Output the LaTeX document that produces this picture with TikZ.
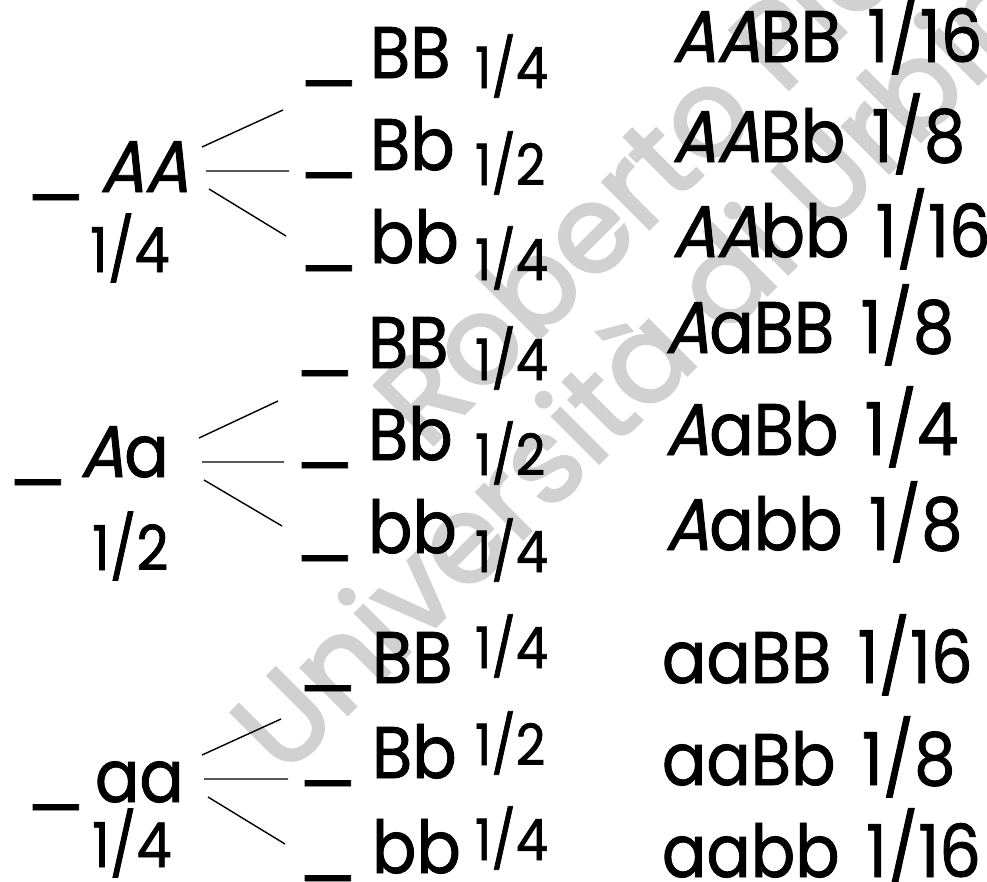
\documentclass[tikz,border=0pt]{standalone}
\usepackage{fontspec}
\setmainfont{Poppins}[FakeStretch=0.9, FakeBold=1.2]
\newfontfamily\slantfont{Poppins}[FakeStretch=0.9, FakeBold=1.2, FakeSlant=0.22]
\newfontfamily\blankfont{Poppins}[FakeStretch=1.3, FakeBold=1.2]
\newfontfamily\wmfont{Poppins}[FakeBold=2.5]
\newcommand\sA{{\slantfont A}}
\newcommand\gap{\hspace{0.36em}}
\tikzset{
  every node/.style={inner sep=0pt, outer sep=0pt, anchor=base west},
  geno/.style={font=\fontsize{73}{73}\selectfont},
  gfrac/.style={font=\fontsize{57}{57}\selectfont},
  pfrac/.style={font=\fontsize{62}{62}\selectfont},
  blank/.style={font=\blankfont\fontsize{66}{66}\selectfont, xshift=-11pt},
  branch/.style={line width=1.4pt},
  wmark/.style={text=black!18, font=\wmfont\fontsize{120}{120}\selectfont, rotate=45}
}
\begin{document}
\begin{tikzpicture}[x=1pt,y=-1pt]
\useasboundingbox (0,0) rectangle (987,881);

% watermark
\begin{scope}
  \clip (0,0) rectangle (987,881);
  \node[wmark] (wm1) at (427,451) {Roberto Pierge};
  \node[wmark] (wm2) at (284,778) {Università di Urbino};
\end{scope}

% parents
\node[blank] (pb1) at (35,192) {\_};
\node[geno]  (p1)  at (100,192) {\sA\sA};
\node[pfrac] (pf1) at (90,272) {1/4};

\node[blank] (pb2) at (17,477) {\_};
\node[geno]  (p2)  at (80,477) {\sA a};
\node[pfrac] (pf2) at (92,570) {1/2};

\node[blank] (pb3) at (35,802) {\_};
\node[geno]  (p3)  at (95,802) {aa};
\node[pfrac] (pf3) at (92,867) {1/4};

% second locus, group 1
\node[blank] (b1) at (308,78)  {\_};
\node[geno]  (g1) at (370,78)  {BB};
\node[gfrac] (f1) at (475,88)  {1/4};
\node[blank] (b2) at (308,170) {\_};
\node[geno]  (g2) at (370,170) {Bb};
\node[gfrac] (f2) at (475,185) {1/2};
\node[blank] (b3) at (308,263) {\_};
\node[geno]  (g3) at (370,263) {bb};
\node[gfrac] (f3) at (475,280) {1/4};

% group 2
\node[blank] (b4) at (304,368) {\_};
\node[geno]  (g4) at (368,368) {BB};
\node[gfrac] (f4) at (475,380) {1/4};
\node[blank] (b5) at (304,460) {\_};
\node[geno]  (g5) at (368,460) {Bb};
\node[gfrac] (f5) at (475,475) {1/2};
\node[blank] (b6) at (304,553) {\_};
\node[geno]  (g6) at (368,553) {bb};
\node[gfrac] (f6) at (475,572) {1/4};

% group 3
\node[blank] (b7) at (307,683) {\_};
\node[geno]  (g7) at (372,683) {BB};
\node[gfrac] (f7) at (475,668) {1/4};
\node[blank] (b8) at (307,778) {\_};
\node[geno]  (g8) at (372,778) {Bb};
\node[gfrac] (f8) at (475,765) {1/2};
\node[blank] (b9) at (307,873) {\_};
\node[geno]  (g9) at (372,873) {bb};
\node[gfrac] (f9) at (475,860) {1/4};

% results
\node[geno] (r1) at (672,62)  {\sA\sA BB\gap1/16};
\node[geno] (r2) at (672,162) {\sA\sA Bb\gap1/8};
\node[geno] (r3) at (672,257) {\sA\sA bb\gap1/16};
\node[geno] (r4) at (665,353) {\sA aBB\gap1/8};
\node[geno] (r5) at (665,455) {\sA aBb\gap1/4};
\node[geno] (r6) at (665,550) {\sA abb\gap1/8};
\node[geno] (r7) at (662,683) {aaBB\gap1/16};
\node[geno] (r8) at (662,785) {aaBb\gap1/8};
\node[geno] (r9) at (662,877) {aabb\gap1/16};

% fork points
\coordinate (s1a) at (202,147); \coordinate (e1a) at (283,110);
\coordinate (s1b) at (206,171); \coordinate (e1b) at (289,171);
\coordinate (s1c) at (209,189); \coordinate (e1c) at (286,236);
\coordinate (s2a) at (199,438); \coordinate (e2a) at (278,401);
\coordinate (s2b) at (202,462); \coordinate (e2b) at (284,462);
\coordinate (s2c) at (204,480); \coordinate (e2c) at (282,526);
\coordinate (s3a) at (202,755); \coordinate (e3a) at (281,719);
\coordinate (s3b) at (204,779); \coordinate (e3b) at (288,779);
\coordinate (s3c) at (208,797); \coordinate (e3c) at (285,844);

\draw[branch] (s1a) -- (e1a) (s1b) -- (e1b) (s1c) -- (e1c);
\draw[branch] (s2a) -- (e2a) (s2b) -- (e2b) (s2c) -- (e2c);
\draw[branch] (s3a) -- (e3a) (s3b) -- (e3b) (s3c) -- (e3c);
\end{tikzpicture}
\end{document}
